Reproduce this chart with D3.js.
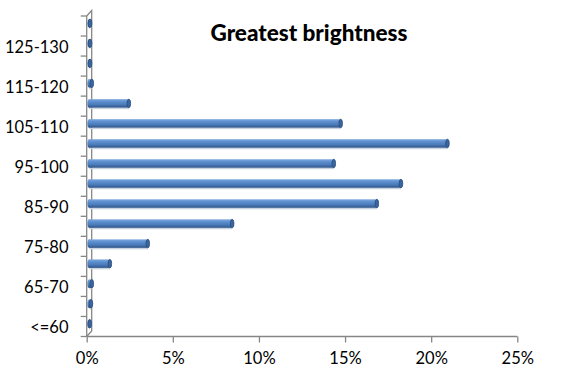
<!DOCTYPE html>
<html><head><meta charset="utf-8">
<script src="https://cdn.jsdelivr.net/npm/d3@7"></script>
<style>body{margin:0;background:#fff}text{font-family:Lato,"Open Sans",sans-serif}</style>
</head><body>
<script>
const categories = ["<=60","60-65","65-70","70-75","75-80","80-85","85-90","90-95","95-100","100-105","105-110","110-115","115-120","120-125","125-130",">130"];
const values = [0.03,0.1,0.15,1.2,3.4,8.3,16.7,18.1,14.2,20.8,14.6,2.3,0.15,0.05,0.05,0.05];
const xTicks = [0,5,10,15,20,25];
const title = "Greatest brightness";

(function(){
const W=571,H=379;
const svg=d3.select("body").append("svg").attr("width",W).attr("height",H);
const defs=svg.append("defs");
const g1=defs.append("linearGradient").attr("id","cyl").attr("x1",0).attr("y1",0).attr("x2",0).attr("y2",1);
[["0%","#7fa9dd"],["30%","#5c8ecf"],["65%","#4a7ab8"],["100%","#2e5386"]].forEach(s=>g1.append("stop").attr("offset",s[0]).attr("stop-color",s[1]));

const pLeft=86.7,pRight=517.3,pTop=16,pBottom=336.5,dx=5,dy=-5.5;
const x=d3.scaleLinear().domain([0,25]).range([pLeft,pRight]);
const y=d3.scaleBand().domain(categories.slice().reverse()).range([pTop,pBottom]);

const axisColor="#868686";
svg.append("path").attr("d",`M${pLeft},${pBottom}L${pLeft},${pTop}L${pLeft+dx},${pTop+dy}L${pLeft+dx},${pBottom+dy}L${pLeft},${pBottom}`)
  .attr("fill","none").attr("stroke",axisColor).attr("stroke-width",1.3);

const xa=svg.append("g").attr("transform",`translate(0,${pBottom})`)
  .call(d3.axisBottom(x).tickValues(xTicks).tickFormat(d=>d+"%").tickSize(6).tickPadding(10));
xa.select(".domain").attr("stroke",axisColor).attr("stroke-width",1.3).attr("d",`M${pLeft},0H${pRight}`);
xa.selectAll(".tick line").attr("stroke",axisColor).attr("stroke-width",1.3);
xa.selectAll(".tick text").attr("font-size",16.5).attr("fill","#000").attr("font-family","Lato");

const yTickPos=d3.range(categories.length+1).map(i=>pTop+i*y.step());
svg.append("g").selectAll("line").data(yTickPos).join("line")
  .attr("x1",pLeft-6).attr("x2",pLeft).attr("y1",d=>d).attr("y2",d=>d)
  .attr("stroke",axisColor).attr("stroke-width",1.3);
svg.append("g").selectAll("text").data(categories.filter((c,i)=>i%2===0)).join("text")
  .attr("x",68.5).attr("y",d=>y(d)+y.bandwidth()/2+7).attr("text-anchor","end")
  .attr("font-size",16.5).attr("fill","#000").text(d=>d);

const th=8.5, rx=1.8;
const bars=svg.append("g");
categories.forEach((c,i)=>{
  const cy=y(c)+y.bandwidth()/2+dy/2;
  const x0=x(0)+dx/2, x1=x(values[i])+dx/2;
  const gg=bars.append("g");
  gg.append("rect").attr("x",x0).attr("y",cy+th/2).attr("width",Math.max(0,x1-x0)).attr("height",1.5).attr("fill","#c9d3e0");
  gg.append("rect").attr("x",x0).attr("y",cy-th/2).attr("width",Math.max(0,x1-x0)).attr("height",th).attr("fill","url(#cyl)");
  gg.append("ellipse").attr("cx",x0).attr("cy",cy).attr("rx",rx).attr("ry",th/2).attr("fill","url(#cyl)");
  gg.append("ellipse").attr("cx",x1).attr("cy",cy).attr("rx",rx).attr("ry",th/2).attr("fill","#3a66a0").attr("stroke","#2b4c7a").attr("stroke-width",0.8);
});

svg.append("text").attr("x",309).attr("y",41).attr("text-anchor","middle").attr("font-weight","900")
  .attr("font-size",22.5).attr("fill","#000").text(title);
})();
</script>
</body></html>
